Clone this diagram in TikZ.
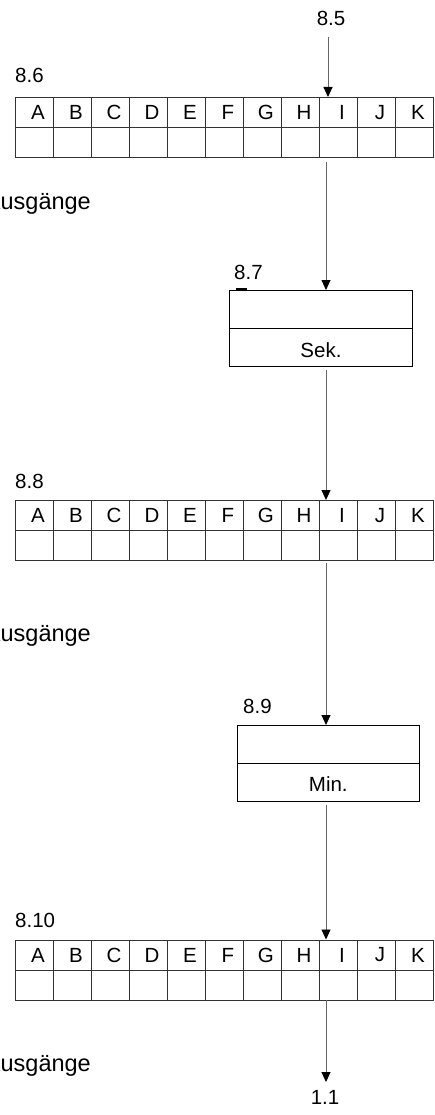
\documentclass[tikz,border=0pt]{standalone}
\usepackage{fontspec}
\setmainfont{Liberation Sans}
\usetikzlibrary{arrows.meta,calc}
\newcommand\mytable[3]{%
  \node[draw=none, minimum width=418pt, minimum height=60pt, inner sep=0pt, anchor=north west] (#1) at (#2,#3) {};
  \foreach \L [count=\n] in {A,B,C,D,E,F,G,H,I,J,K} {
    \node[cell, anchor=north west] (#1-\n) at ({#2+(\n-1)*38},#3) {\hspace*{7pt}\L};
    \node[cell, anchor=north west] (#1-b\n) at ({#2+(\n-1)*38},{#3+30}) {};
  }%
}
\begin{document}
\begin{tikzpicture}[x=1pt,y=-1pt,
  lbl/.style={font=\fontsize{20.5}{24}\selectfont, inner sep=0pt},
  big/.style={font=\fontsize{23.5}{28}\selectfont, inner sep=0pt},
  cell/.style={draw=black!80, line width=0.9pt, minimum width=38pt, minimum height=30pt, inner sep=0pt, font=\fontsize{20.5}{24}\selectfont},
  boxnode/.style={draw=black, line width=0.9pt, inner sep=0pt, anchor=north west},
  conn/.style={draw=black!60, line width=0.9pt, -{Triangle[length=10pt,width=9pt,color=black]}},
]
\useasboundingbox (0,0) rectangle (434,1115);

% tables
\mytable{t1}{15}{97}
\mytable{t2}{15}{500}
\mytable{t3}{15}{939.5}

% boxes
\node[boxnode, minimum width=182.4pt, minimum height=76.3pt] (b7) at (229.3,290) {};
\draw[line width=0.9pt] (b7.west) -- (b7.east);
\node[lbl] (sek) at ($(b7.center)!0.5!(b7.south)+(0,2)$) {Sek.};
\draw[line width=1.8pt] (236,289.3) -- (247,289.3);

\node[boxnode, minimum width=182.3pt, minimum height=75.7pt] (b9) at (236.7,725) {};
\draw[line width=0.9pt] (b9.west) -- (b9.east);
\node[lbl] (min) at ($(b9.center)!0.5!(b9.south)+(0,2)$) {Min.};

% labels
\node[lbl] (l85) at (331,18) {8.5};
\node[lbl, anchor=west] (l86) at (15,75) {8.6};
\node[lbl, anchor=west] (l87) at (234,272) {8.7};
\node[lbl, anchor=west] (l88) at (15,481.5) {8.8};
\node[lbl, anchor=west] (l89) at (243,706.5) {8.9};
\node[lbl, anchor=west] (l810) at (15,920) {8.10};
\node[lbl] (l11) at (325,1097) {1.1};

\node[big, anchor=base east] (au1) at (91,209.5) {Ausgänge};
\node[big, anchor=base east] (au2) at (91,641.5) {Ausgänge};
\node[big, anchor=base east] (au3) at (91,1071.5) {Ausgänge};

% connectors
\coordinate (s85) at (328,37);
\coordinate (cx) at (326,0);
\coordinate (e11) at (326,1082);
\draw[conn] (s85) -- (s85 |- t1.north);
\draw[conn, shorten <=5pt] (cx |- t1.south) -- (cx |- b7.north);
\draw[conn, shorten <=3pt] (cx |- b7.south) -- (cx |- t2.north);
\draw[conn, shorten <=3pt] (cx |- t2.south) -- (cx |- b9.north);
\draw[conn, shorten <=3pt] (cx |- b9.south) -- (cx |- t3.north);
\draw[conn] (cx |- t3.south) -- (e11);
\end{tikzpicture}
\end{document}
